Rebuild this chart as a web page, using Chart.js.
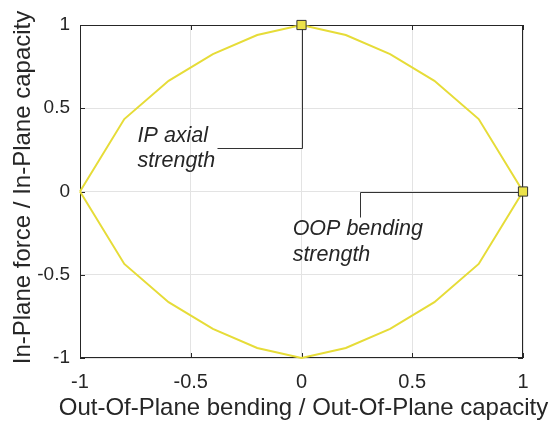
<!DOCTYPE html>
<html>
<head>
<meta charset="utf-8">
<script src="https://cdn.jsdelivr.net/npm/chart.js@4/dist/chart.umd.min.js"></script>
<style>
  html, body { margin: 0; padding: 0; background: #ffffff; }
  #wrap { width: 559px; height: 423px; }
</style>
</head>
<body>
<div id="wrap"><canvas id="c" width="559" height="423"></canvas></div>
<script>
// Interaction envelope: out-of-plane bending ratio vs in-plane force ratio
const bendingRatio = [-1, -0.8, -0.6, -0.4, -0.2, 0, 0.2, 0.4, 0.6, 0.8, 1];
const axialUpper   = [0, 0.435, 0.665, 0.825, 0.94, 1, 0.94, 0.825, 0.665, 0.435, 0];
const axialLower   = [0, -0.435, -0.665, -0.825, -0.94, -1, -0.94, -0.825, -0.665, -0.435, 0];

// Pure-strength points (in-plane axial, out-of-plane bending)
const strengthX = [0, 1];
const strengthY = [1, 0];

const tickValues = [-1, -0.5, 0, 0.5, 1];

const xTitle = 'Out-Of-Plane bending / Out-Of-Plane capacity';
const yTitle = 'In-Plane force / In-Plane capacity';

// Callout notes
const noteLines = [["IP axial", "strength"], ["OOP bending", "strength"]];

// Closed envelope: upper branch left to right, lower branch back
const envelope = [];
bendingRatio.forEach((x, i) => envelope.push({ x: x, y: axialUpper[i] }));
for (let i = bendingRatio.length - 2; i >= 0; i--) envelope.push({ x: bendingRatio[i], y: axialLower[i] });

const strengthPts = strengthX.map((x, i) => ({ x: x, y: strengthY[i] }));

const FONT = "'Liberation Sans', Arial, Helvetica, sans-serif";
const INK = '#262626';

// Leader geometry in data units
const leaders = [
  { from: [0, 1], elbow: [0, 0.26], end: [-0.38, 0.26], text: [-0.74, 0.30], lineGap: 0.152 },
  { from: [1, 0], elbow: [0.264, 0], end: [0.264, -0.155], text: [-0.04, -0.26], lineGap: 0.157 }
];

const frame = {
  id: 'frame',
  beforeDatasetsDraw(chart) {
    const { ctx, chartArea: a, scales: { x, y } } = chart;
    ctx.save();
    // axes box
    ctx.strokeStyle = INK;
    ctx.lineWidth = 1;
    ctx.strokeRect(Math.round(a.left) + 0.5, Math.round(a.top) + 0.5,
                   Math.round(a.right - a.left) - 1, Math.round(a.bottom - a.top) - 1);
    // inward tick marks on all four sides
    const len = 5;
    ctx.beginPath();
    tickValues.forEach(v => {
      const px = Math.round(x.getPixelForValue(v)) + 0.5;
      ctx.moveTo(px, a.bottom); ctx.lineTo(px, a.bottom - len);
      ctx.moveTo(px, a.top); ctx.lineTo(px, a.top + len);
      const py = Math.round(y.getPixelForValue(v)) + 0.5;
      ctx.moveTo(a.left, py); ctx.lineTo(a.left + len, py);
      ctx.moveTo(a.right, py); ctx.lineTo(a.right - len, py);
    });
    ctx.stroke();
    // leader lines
    ctx.strokeStyle = '#333333';
    leaders.forEach(L => {
      ctx.beginPath();
      const p = (d) => [Math.round(x.getPixelForValue(d[0])) + 0.5, Math.round(y.getPixelForValue(d[1])) + 0.5];
      const a0 = p(L.from), a1 = p(L.elbow), a2 = p(L.end);
      ctx.moveTo(a0[0], a0[1]); ctx.lineTo(a1[0], a1[1]); ctx.lineTo(a2[0], a2[1]);
      ctx.stroke();
    });
    // note text
    ctx.fillStyle = INK;
    ctx.font = 'italic 21.5px ' + FONT;
    ctx.textBaseline = 'alphabetic';
    ctx.textAlign = 'left';
    leaders.forEach((L, k) => {
      noteLines[k].forEach((t, j) => {
        ctx.fillText(t, x.getPixelForValue(L.text[0]), y.getPixelForValue(L.text[1] - j * L.lineGap));
      });
    });
    ctx.restore();
  },
  afterDraw(chart) {
    // axis titles, drawn at full width (not squeezed to the scale length)
    const { ctx, chartArea: a } = chart;
    ctx.save();
    ctx.fillStyle = INK;
    ctx.font = '24px ' + FONT;
    ctx.textAlign = 'center';
    ctx.textBaseline = 'alphabetic';
    ctx.fillText(xTitle, (a.left + a.right) / 2 + 2, 415);
    ctx.translate(30, (a.top + a.bottom) / 2 - 4);
    ctx.rotate(-Math.PI / 2);
    ctx.fillText(yTitle, 0, 0);
    ctx.restore();
  }
};

new Chart(document.getElementById('c'), {
  type: 'scatter',
  data: {
    datasets: [
      {
        data: envelope,
        showLine: true,
        borderColor: '#e6dc38',
        borderWidth: 2,
        pointRadius: 0,
        tension: 0,
        clip: false,
        order: 2
      },
      {
        data: strengthPts,
        showLine: false,
        pointStyle: 'rect',
        pointRadius: 6.5,
        backgroundColor: '#ebe24a',
        borderColor: '#333333',
        borderWidth: 1,
        clip: false,
        order: 1
      }
    ]
  },
  options: {
    responsive: false,
    animation: false,
    events: [],
    layout: { padding: { top: 25, right: 36, left: 0, bottom: 0 } },
    plugins: { legend: { display: false }, tooltip: { enabled: false } },
    scales: {
      x: {
        type: 'linear',
        min: -1, max: 1,
        afterFit(s) { s.height = 65; },
        afterBuildTicks(s) { s.ticks = tickValues.map(v => ({ value: v })); },
        grid: { color: '#e3e3e3', lineWidth: 1, drawTicks: false },
        border: { display: false },
        ticks: { color: INK, padding: 12, font: { family: FONT, size: 20 }, callback: v => String(v), maxRotation: 0 },
        title: { display: false }
      },
      y: {
        type: 'linear',
        min: -1, max: 1,
        afterFit(s) { s.width = 80; },
        afterBuildTicks(s) { s.ticks = tickValues.map(v => ({ value: v })); },
        grid: { color: '#e3e3e3', lineWidth: 1, drawTicks: false },
        border: { display: false },
        ticks: { color: INK, padding: 10, font: { family: FONT, size: 19 }, callback: v => String(v) },
        title: { display: false }
      }
    }
  },
  plugins: [frame]
});
</script>
</body>
</html>
